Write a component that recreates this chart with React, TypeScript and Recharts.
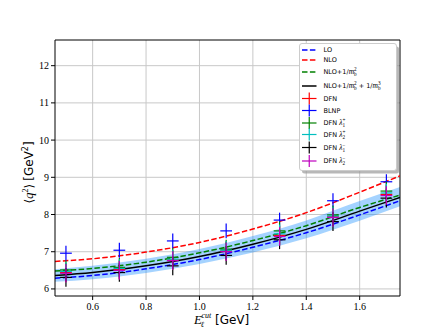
import React from 'react';
import { ComposedChart, Line, Area, Scatter, ErrorBar, XAxis, YAxis, CartesianGrid, ReferenceLine } from 'recharts';

// ---- data ----
const curveX = [0.459, 0.6, 0.8, 1.0, 1.2, 1.4, 1.6, 1.751];
const loCurve = [6.29, 6.36, 6.54, 6.79, 7.12, 7.51, 7.99, 8.37];
const nloCurve = [6.74, 6.81, 6.99, 7.25, 7.61, 8.05, 8.6, 9.04];
const nloMb2Curve = [6.48, 6.55, 6.72, 6.97, 7.3, 7.7, 8.19, 8.52];
const nloMb3Curve = [6.36, 6.44, 6.62, 6.87, 7.2, 7.6, 8.09, 8.46];
const bandLow = [6.19, 6.26, 6.43, 6.67, 6.98, 7.36, 7.83, 8.22];
const bandHigh = [6.53, 6.62, 6.81, 7.07, 7.42, 7.84, 8.36, 8.74];

const pointX = [0.5, 0.7, 0.9, 1.1, 1.3, 1.5, 1.7];
const dfnPts = [6.44, 6.52, 6.78, 7.02, 7.44, 7.94, 8.54];
const blnpPts = [6.96, 7.04, 7.29, 7.56, 7.85, 8.37, 8.88];
const dfnL1pPts = [6.51, 6.58, 6.85, 7.07, 7.56, 7.99, 8.63];
const dfnL2pPts = [6.47, 6.55, 6.8, 7.04, 7.48, 7.96, 8.58];
const dfnL1mPts = [6.31, 6.44, 6.62, 6.9, 7.32, 7.81, 8.44];
const dfnL2mPts = [6.42, 6.5, 6.76, 7.0, 7.41, 7.92, 8.51];
const dfnYErr = 0.25;
const blnpYErr = 0.2;
const pointXErr = 0.022;

const xTicks = [0.6, 0.8, 1.0, 1.2, 1.4, 1.6];
const yTicks = [6, 7, 8, 9, 10, 11, 12];
const xDomain: [number, number] = [0.459, 1.751];
const yDomain: [number, number] = [5.81, 12.69];

type Part = string | { v: string; sub: string; sup: string };

const lineSeries = [
  { key: 'lo', label: ['LO'] as Part[], color: '#0000ff', dash: '5.5 2.4' },
  { key: 'nlo', label: ['NLO'] as Part[], color: '#ff0000', dash: '5.5 2.4' },
  { key: 'nlo2', label: ['NLO+1/', { v: 'm', sub: 'b', sup: '2' }] as Part[], color: '#008000', dash: '5.5 2.4' },
  { key: 'nlo3', label: ['NLO+1/', { v: 'm', sub: 'b', sup: '2' }, ' + 1/', { v: 'm', sub: 'b', sup: '3' }] as Part[], color: '#000000', dash: '' },
];

const pointSeries = [
  { label: ['DFN'] as Part[], color: '#ff0000', values: dfnPts, err: dfnYErr },
  { label: ['BLNP'] as Part[], color: '#0000ff', values: blnpPts, err: blnpYErr },
  { label: ['DFN ', { v: 'λ', sub: '1', sup: '+' }] as Part[], color: '#008000', values: dfnL1pPts, err: dfnYErr },
  { label: ['DFN ', { v: 'λ', sub: '2', sup: '+' }] as Part[], color: '#00bfbf', values: dfnL2pPts, err: dfnYErr },
  { label: ['DFN ', { v: 'λ', sub: '1', sup: '−' }] as Part[], color: '#000000', values: dfnL1mPts, err: dfnYErr },
  { label: ['DFN ', { v: 'λ', sub: '2', sup: '−' }] as Part[], color: '#bf00bf', values: dfnL2mPts, err: dfnYErr },
];

const curveData = curveX.map((x, i) => ({
  x,
  lo: loCurve[i],
  nlo: nloCurve[i],
  nlo2: nloMb2Curve[i],
  nlo3: nloMb3Curve[i],
  band: [bandLow[i], bandHigh[i]],
}));

const SANS = '"DejaVu Sans", sans-serif';
const SERIF = '"Liberation Serif", "DejaVu Serif", serif';

function renderLabel(parts: Part[]) {
  const out: React.ReactNode[] = [];
  parts.forEach((p, i) => {
    if (typeof p === 'string') {
      out.push(<tspan key={i}>{p}</tspan>);
    } else {
      out.push(
        <tspan key={i + 'v'} fontFamily={SERIF} fontStyle="italic" fontSize={7.5}>{p.v}</tspan>,
        <tspan key={i + 's'} fontFamily={SERIF} fontSize={5.2} baselineShift="-1.8">{p.sub}</tspan>,
        <tspan key={i + 'p'} fontFamily={SERIF} fontSize={5.2} dx={-2.6} baselineShift="3.2">{p.sup}</tspan>
      );
    }
  });
  return out;
}

const lineRowY = [50, 60, 72, 86];
const pointRowY = [98.5, 110.5, 123, 134.5, 147.5, 161];

function LegendBox() {
  const hx0 = 302;
  const hx1 = 316.5;
  const tx = 323.5;
  return (
    <svg width={444} height={333} style={{ position: 'absolute', left: 0, top: 0, pointerEvents: 'none' }}>
      <rect x={302} y={46.5} width={97} height={127} rx={2.5} fill="#9a9a9a" fillOpacity={0.7} />
      <rect x={299.5} y={43.5} width={97} height={127} rx={2.5} fill="#ffffff" stroke="#cccccc" strokeWidth={1} />
      {lineSeries.map((s, i) => (
        <g key={s.key}>
          <line x1={hx0} x2={hx1} y1={lineRowY[i]} y2={lineRowY[i]} stroke={s.color} strokeWidth={1.5}
            strokeDasharray={s.dash || undefined} />
          <text x={tx} y={lineRowY[i] + 2.4} fontFamily={SANS} fontSize={6.5} fill="#000">{renderLabel(s.label)}</text>
        </g>
      ))}
      {pointSeries.map((s, i) => (
        <g key={i}>
          <line x1={hx0} x2={hx1} y1={pointRowY[i]} y2={pointRowY[i]} stroke={s.color} strokeWidth={1.2} />
          <line x1={(hx0 + hx1) / 2} x2={(hx0 + hx1) / 2} y1={pointRowY[i] - 6} y2={pointRowY[i] + 6} stroke={s.color} strokeWidth={1.2} />
          <text x={tx} y={pointRowY[i] + 2.4} fontFamily={SANS} fontSize={6.5} fill="#000">{renderLabel(s.label)}</text>
        </g>
      ))}
    </svg>
  );
}

function XLabel() {
  return (
    <g>
      <text x={194} y={324} fontFamily={SERIF} fontStyle="italic" fontSize={13} fill="#000">E</text>
      <text x={201.5} y={318} fontFamily={SERIF} fontStyle="italic" fontSize={8} fill="#000">cut</text>
      <text x={200.5} y={326.5} fontFamily={SERIF} fontStyle="italic" fontSize={8} fill="#000">ℓ</text>
      <text x={215} y={324} fontFamily={SANS} fontSize={12} fill="#000">[GeV]</text>
    </g>
  );
}

function YLabel() {
  return (
    <text transform="translate(32.5,172.5) rotate(-90)" textAnchor="middle" fontSize={12} fill="#000">
      <tspan fontFamily={SERIF}>⟨</tspan>
      <tspan fontFamily={SERIF} fontStyle="italic" fontSize={13}>q</tspan>
      <tspan fontFamily={SERIF} fontSize={8} baselineShift="5">2</tspan>
      <tspan fontFamily={SERIF}>⟩ </tspan>
      <tspan fontFamily={SANS}> [GeV</tspan>
      <tspan fontFamily={SANS} fontSize={8} baselineShift="5">2</tspan>
      <tspan fontFamily={SANS}>]</tspan>
    </text>
  );
}

export default function App() {
  return (
    <div style={{ position: 'absolute', left: 0, top: 0, width: 444, height: 333, background: '#fff' }}>
      <ComposedChart width={444} height={333} data={curveData} margin={{ top: 40, right: 44, bottom: 0, left: 0 }}>
        <CartesianGrid stroke="#c8c8c8" strokeWidth={1} horizontalValues={yTicks} verticalValues={xTicks} />
        <XAxis
          dataKey="x"
          type="number"
          domain={xDomain}
          allowDataOverflow
          ticks={xTicks}
          tickFormatter={(v: number) => v.toFixed(1)}
          height={37}
          tickSize={4}
          tickMargin={3}
          axisLine={{ stroke: '#000', strokeWidth: 1 }}
          tickLine={{ stroke: '#000' }}
          tick={{ fontFamily: SERIF, fontSize: 10, fill: '#000' }}
        />
        <YAxis
          type="number"
          domain={yDomain}
          allowDataOverflow
          ticks={yTicks}
          width={55}
          tickSize={4}
          tickMargin={2}
          axisLine={{ stroke: '#000', strokeWidth: 1 }}
          tickLine={{ stroke: '#000' }}
          tick={{ fontFamily: SERIF, fontSize: 10, fill: '#000' }}
        />
        <ReferenceLine y={yDomain[1]} stroke="#000" strokeWidth={1} ifOverflow="visible" />
        <ReferenceLine x={xDomain[1]} stroke="#000" strokeWidth={1} ifOverflow="visible" />
        <Area dataKey="band" type="monotone" fill="#1e90ff" fillOpacity={0.4} stroke="none" isAnimationActive={false} />
        {lineSeries.map((s) => (
          <Line key={s.key} dataKey={s.key} type="monotone" stroke={s.color} strokeWidth={1.5}
            strokeDasharray={s.dash || undefined} dot={false} activeDot={false} isAnimationActive={false} />
        ))}
        {pointSeries.map((s, i) => (
          <Scatter
            key={i}
            data={pointX.map((x, j) => ({ x, y: s.values[j], ey: s.err, ex: pointXErr }))}
            dataKey="y"
            shape={() => <g />}
            isAnimationActive={false}
          >
            <ErrorBar dataKey="ey" direction="y" width={0} stroke={s.color} strokeWidth={1.2} />
            <ErrorBar dataKey="ex" direction="x" width={0} stroke={s.color} strokeWidth={1.2} />
          </Scatter>
        ))}
        <XLabel />
        <YLabel />
      </ComposedChart>
      <LegendBox />
    </div>
  );
}
